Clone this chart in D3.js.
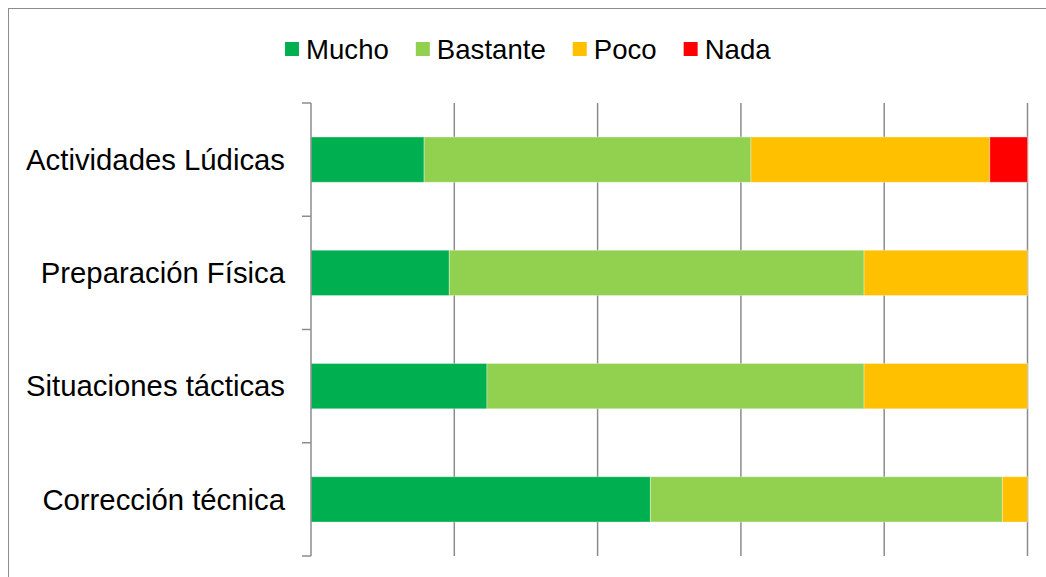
<!DOCTYPE html>
<html>
  <head>
    <meta charset="utf-8">
    <title>Valoración</title>
    <script src="https://cdn.jsdelivr.net/npm/d3@7"></script>
    <style>
      body { margin: 0; background: #fff; }
      text { font-family: Arial, "Liberation Sans", sans-serif; fill: #000; }
    </style>
  </head>
  <body>
    <svg width="1046" height="577" id="mainsvg"></svg>
    <script>
      // categorías (de arriba a abajo) y respuestas por serie
      const categories = ['Actividades Lúdicas', 'Preparación Física', 'Situaciones tácticas', 'Corrección técnica'];
      const seriesNames = ['Mucho', 'Bastante', 'Poco', 'Nada'];
      const mucho    = [9, 11, 14, 27];
      const bastante = [26, 33, 30, 28];
      const poco     = [19, 13, 13, 2];
      const nada     = [3, 0, 0, 0];
      const colors = ['#00B050', '#92D050', '#FFC000', '#FF0000'];
      const tickValues = [0, 0.2, 0.4, 0.6, 0.8, 1];

      const svg = d3.select('#mainsvg');
      const width = +svg.attr('width');
      const height = +svg.attr('height');
      const margin = {top: 103, right: 18.5, bottom: 21, left: 311};

      // marco del gráfico
      svg.append('rect')
        .attr('x', 8.5).attr('y', 8.5)
        .attr('width', width).attr('height', height)
        .attr('fill', 'none').attr('stroke', '#8c8c8c').attr('stroke-width', 1);

      const table = categories.map((c, i) => {
        const total = mucho[i] + bastante[i] + poco[i] + nada[i];
        return {cat: c, Mucho: mucho[i] / total, Bastante: bastante[i] / total, Poco: poco[i] / total, Nada: nada[i] / total};
      });
      const stacked = d3.stack().keys(seriesNames)(table);

      const x = d3.scaleLinear().domain([0, 1]).range([margin.left, width - margin.right]);
      const y = d3.scaleBand().domain(categories)
        .range([margin.top, height - margin.bottom])
        .paddingInner(0.6).paddingOuter(0.3);
      const color = d3.scaleOrdinal().domain(seriesNames).range(colors);

      // líneas de división verticales
      svg.append('g').selectAll('line').data(tickValues.slice(1)).join('line')
        .attr('x1', d => x(d)).attr('x2', d => x(d))
        .attr('y1', margin.top).attr('y2', height - margin.bottom)
        .attr('stroke', '#8c8c8c').attr('stroke-width', 1.5);

      // barras apiladas
      svg.append('g').selectAll('g').data(stacked).join('g')
        .attr('fill', d => color(d.key))
        .selectAll('rect').data(d => d.filter(s => s[1] - s[0] > 0)).join('rect')
        .attr('x', d => x(d[0]))
        .attr('width', d => x(d[1]) - x(d[0]))
        .attr('y', d => y(d.data.cat))
        .attr('height', y.bandwidth())
        .attr('stroke', 'rgba(255,255,255,0.35)')
        .attr('stroke-width', 1);

      // eje vertical con marcas entre categorías
      const bounds = [margin.top].concat(categories.map(c => y(c) + y.bandwidth() + y.step() * 0.3));
      const axis = svg.append('g');
      axis.append('line')
        .attr('x1', margin.left).attr('x2', margin.left)
        .attr('y1', margin.top).attr('y2', height - margin.bottom)
        .attr('stroke', '#8c8c8c').attr('stroke-width', 1.5);
      axis.selectAll('.tk').data(bounds).join('line').attr('class', 'tk')
        .attr('x1', margin.left - 9).attr('x2', margin.left)
        .attr('y1', d => d).attr('y2', d => d)
        .attr('stroke', '#8c8c8c').attr('stroke-width', 1.5);
      axis.selectAll('text').data(categories).join('text')
        .attr('x', margin.left - 26)
        .attr('y', d => y(d) + y.bandwidth() / 2)
        .attr('dy', '0.35em')
        .attr('text-anchor', 'end')
        .attr('font-size', '29.3px')
        .text(d => d);

      // leyenda
      const legend = svg.append('g').attr('transform', 'translate(285, 49)');
      let lx = 0;
      seriesNames.forEach(name => {
        const item = legend.append('g').attr('transform', `translate(${lx}, 0)`);
        item.append('rect').attr('x', 0).attr('y', -7).attr('width', 14).attr('height', 14).attr('fill', color(name));
        const t = item.append('text').attr('x', 21).attr('dy', '0.35em').attr('font-size', '27.6px').text(name);
        lx += 21 + t.node().getComputedTextLength() + 27;
      });
    </script>
  </body>
</html>
